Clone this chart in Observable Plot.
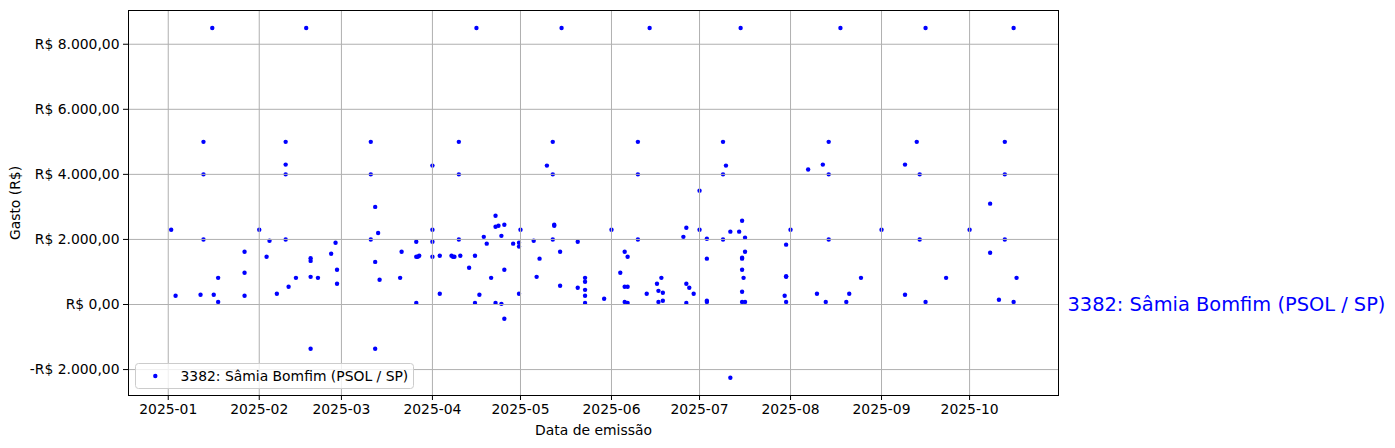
<!DOCTYPE html>
<html>
<head>
<meta charset="utf-8">
<script src="https://cdn.jsdelivr.net/npm/d3@7"></script>
<script src="https://cdn.jsdelivr.net/npm/@observablehq/plot@0.6"></script>
<style>
  html, body { margin: 0; padding: 0; background: white; }
  #chart { width: 1395px; height: 448px; }
</style>
</head>
<body>
<div id="chart"></div>
<script>
// ---- Data ----
const seriesName = "3382: Sâmia Bomfim (PSOL / SP)";

const emissionDates = [
  "2025-01-02","2025-01-03T12:00Z","2025-01-12","2025-01-13","2025-01-13","2025-01-13","2025-01-16","2025-01-16T12:00Z","2025-01-18","2025-01-18","2025-01-27","2025-01-27","2025-01-27",
  "2025-02-01","2025-02-03T12:00Z","2025-02-04T12:00Z","2025-02-07","2025-02-10","2025-02-10","2025-02-10","2025-02-10","2025-02-11","2025-02-13T12:00Z","2025-02-17","2025-02-18T12:00Z","2025-02-18T12:00Z","2025-02-18T12:00Z","2025-02-18T12:00Z","2025-02-21","2025-02-25T12:00Z","2025-02-27","2025-02-27T12:00Z","2025-02-27T12:00Z",
  "2025-03-11","2025-03-11","2025-03-11","2025-03-12T12:00Z","2025-03-12T12:00Z","2025-03-12T12:00Z","2025-03-13T12:00Z","2025-03-14","2025-03-21","2025-03-21T12:00Z","2025-03-26T12:00Z","2025-03-26T12:00Z","2025-03-26T12:00Z","2025-03-27","2025-03-27T12:00Z",
  "2025-04-01","2025-04-01","2025-04-01","2025-04-01","2025-04-03T12:00Z","2025-04-03T12:00Z","2025-04-07T12:00Z","2025-04-08","2025-04-08T12:00Z","2025-04-10","2025-04-10","2025-04-10","2025-04-10T12:00Z","2025-04-13T12:00Z","2025-04-15T12:00Z","2025-04-15T12:00Z","2025-04-16","2025-04-17","2025-04-18T12:00Z","2025-04-19T12:00Z","2025-04-21","2025-04-22T12:00Z","2025-04-22T12:00Z","2025-04-22T12:00Z","2025-04-23T12:00Z","2025-04-24T12:00Z","2025-04-24T12:00Z","2025-04-25T12:00Z","2025-04-25T12:00Z","2025-04-25T12:00Z","2025-04-28T12:00Z","2025-04-30T12:00Z","2025-04-30T12:00Z","2025-04-30T12:00Z",
  "2025-05-01","2025-05-05T12:00Z","2025-05-06T12:00Z","2025-05-07T12:00Z","2025-05-10","2025-05-12","2025-05-12","2025-05-12","2025-05-12T12:00Z","2025-05-12T12:00Z","2025-05-14T12:00Z","2025-05-14T12:00Z","2025-05-15","2025-05-20T12:00Z","2025-05-20T12:00Z","2025-05-23","2025-05-23","2025-05-23","2025-05-23","2025-05-23","2025-05-29T12:00Z",
  "2025-06-01","2025-06-04","2025-06-05T12:00Z","2025-06-05T12:00Z","2025-06-05T12:00Z","2025-06-06T12:00Z","2025-06-06T12:00Z","2025-06-06T12:00Z","2025-06-10","2025-06-10","2025-06-10","2025-06-13","2025-06-14","2025-06-16T12:00Z","2025-06-17","2025-06-17","2025-06-18","2025-06-18T12:00Z","2025-06-18T12:00Z","2025-06-25T12:00Z","2025-06-26T12:00Z","2025-06-26T12:00Z","2025-06-26T12:00Z","2025-06-27T12:00Z","2025-06-29",
  "2025-07-01","2025-07-01","2025-07-03T12:00Z","2025-07-03T12:00Z","2025-07-03T12:00Z","2025-07-03T12:00Z","2025-07-09","2025-07-09","2025-07-09","2025-07-10","2025-07-11T12:00Z","2025-07-11T12:00Z","2025-07-14T12:00Z","2025-07-15","2025-07-15T12:00Z","2025-07-15T12:00Z","2025-07-15T12:00Z","2025-07-15T12:00Z","2025-07-15T12:00Z","2025-07-15T12:00Z","2025-07-16","2025-07-16T12:00Z","2025-07-16T12:00Z","2025-07-16T12:00Z","2025-07-30","2025-07-30T12:00Z","2025-07-30T12:00Z","2025-07-30T12:00Z","2025-07-30T12:00Z",
  "2025-08-01","2025-08-07","2025-08-10","2025-08-12","2025-08-13","2025-08-14","2025-08-14","2025-08-14","2025-08-18","2025-08-20","2025-08-21","2025-08-25",
  "2025-09-01","2025-09-09","2025-09-09","2025-09-13","2025-09-14","2025-09-14","2025-09-16","2025-09-16","2025-09-23",
  "2025-10-01","2025-10-08","2025-10-08","2025-10-11","2025-10-13","2025-10-13","2025-10-13","2025-10-16","2025-10-16","2025-10-17"
];

const amounts = [
  2300,270,300,5000,4000,2000,8500,300,820,80,1620,975,270,
  2300,1470,1960,330,5000,4300,4000,2000,545,820,8500,1425,1340,850,-1360,820,1560,1900,1070,640,
  5000,4000,2000,3000,1310,-1360,2200,760,820,1620,1930,1470,50,1470,1500,
  4270,2300,1930,1470,1500,330,1500,1470,1470,5000,4000,2000,1500,1130,1500,50,8500,300,2080,1870,820,2730,2390,50,2420,2110,20,2450,1070,-440,1870,1900,1780,330,
  2300,1960,850,1410,4270,5000,4000,2000,2450,2420,1620,575,8500,1930,515,820,700,450,270,50,175,
  2300,975,1620,545,80,1470,545,50,5000,4000,2000,330,8500,640,420,80,820,360,115,2080,2360,640,50,515,330,
  3500,2300,2020,1410,115,80,5000,4000,2000,4270,2240,-2250,2240,8500,2575,1440,1410,1070,390,80,820,2050,1620,80,270,1840,870,850,80,
  2300,4150,330,4300,80,5000,4000,2000,8500,80,330,820,
  2300,4300,300,5000,4000,2000,8500,80,820,
  2300,3100,1590,145,5000,4000,2000,8500,80,820
];

const xTickLabels = ["2025-01","2025-02","2025-03","2025-04","2025-05","2025-06","2025-07","2025-08","2025-09","2025-10"];
const yTickValues = [-2000, 0, 2000, 4000, 6000, 8000];

// ---- Build table ----
const rows = emissionDates.map((d, i) => ({date: new Date(d), value: amounts[i]}));
const xTicks = xTickLabels.map(s => new Date(s + "-01"));

const ptBR = d3.formatLocale({decimal: ",", thousands: ".", grouping: [3], currency: ["R$ ", ""]});
const fmtNum = ptBR.format(",.2f");
const fmtBRL = v => (v < 0 ? "-R$ " : "R$ ") + fmtNum(Math.abs(v));

const FONT = "DejaVu Sans, Liberation Sans, sans-serif";
const GRID = "#b0b0b0";

const chart = Plot.plot({
  width: 1395,
  height: 448,
  marginLeft: 128,
  marginRight: 337,
  marginTop: 10,
  marginBottom: 53,
  style: {fontFamily: FONT, fontSize: "13.9px", color: "black", background: "white", overflow: "visible"},
  x: {type: "utc", domain: [new Date("2024-12-18T11:00Z"), new Date("2025-10-31T07:00Z")]},
  y: {domain: [-2797, 9037]},
  marks: [
    Plot.dot(rows, {x: "date", y: "value", r: 2.2, fill: "blue", stroke: "none"}),
    Plot.gridX(xTicks, {stroke: GRID, strokeOpacity: 1, strokeWidth: 1}),
    Plot.gridY(yTickValues, {stroke: GRID, strokeOpacity: 1, strokeWidth: 1}),
    Plot.frame({stroke: "black", strokeWidth: 1}),
    Plot.axisX(xTicks, {
      tickFormat: d3.utcFormat("%Y-%m"), tickSize: 5, tickPadding: 4,
      label: "Data de emissão", labelAnchor: "center", labelArrow: "none", labelOffset: 39
    }),
    Plot.axisY(yTickValues, {
      tickFormat: fmtBRL, tickSize: 5, tickPadding: 4,
      label: "Gasto (R$)", labelAnchor: "center", labelArrow: "none", labelOffset: 118
    }),
    Plot.text([seriesName], {
      text: d => d, y: () => 0, frameAnchor: "right", dx: 9, textAnchor: "start",
      fill: "blue", fontSize: 19.4
    })
  ]
});

document.getElementById("chart").appendChild(chart);

// ---- Legend box (matplotlib-style, lower left inside the axes) ----
const svg = d3.select(chart);
const lg = svg.append("g").attr("font-family", FONT).attr("font-size", "13.9px").attr("text-anchor", "start");
lg.append("rect")
  .attr("x", 135.5).attr("y", 363.5).attr("width", 278).attr("height", 25)
  .attr("rx", 3).attr("fill", "white").attr("fill-opacity", 0.8)
  .attr("stroke", "#cccccc").attr("stroke-width", 1);
lg.append("circle").attr("cx", 155.3).attr("cy", 376).attr("r", 2.2).attr("fill", "blue");
lg.append("text").attr("x", 180.5).attr("y", 376).attr("dy", "0.35em")
  .attr("text-anchor", "start").attr("fill", "black").text(seriesName);
</script>
</body>
</html>
